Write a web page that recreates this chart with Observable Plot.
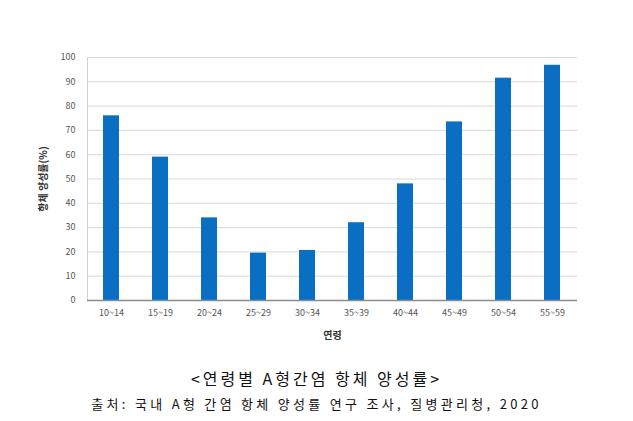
<!DOCTYPE html>
<html><head><meta charset="utf-8">
<script src="https://cdn.jsdelivr.net/npm/d3@7"></script>
<script src="https://cdn.jsdelivr.net/npm/@observablehq/plot@0.6"></script>
<style>
body{margin:0;background:#fff;font-family:"Noto Sans CJK KR","Noto Sans",sans-serif;}
#t{position:absolute;left:0;width:633px;text-align:center;top:366px;font-size:16px;letter-spacing:3px;color:#111;}
#c{position:absolute;left:0;width:633px;text-align:center;top:394px;font-size:13px;letter-spacing:3.3px;color:#111;}
</style></head><body>
<div id="chart"></div>
<div id="t">&lt;연령별 A형간염 항체 양성률&gt;</div>
<div id="c">출처: 국내 A형 간염 항체 양성률 연구 조사, 질병관리청, 2020</div>
<script>
const ages = ["10~14","15~19","20~24","25~29","30~34","35~39","40~44","45~49","50~54","55~59"];
const rates = [76, 59, 34, 19.5, 20.6, 32, 48, 73.5, 91.5, 96.8];
const yTicks = [0,10,20,30,40,50,60,70,80,90,100];
const data = ages.map((a,i)=>({age:a, rate:rates[i]}));
const chart = Plot.plot({
  width:633, height:350,
  marginTop:57, marginBottom:50, marginLeft:87, marginRight:56,
  style:{fontFamily:"'Noto Sans CJK KR','Noto Sans',sans-serif", fontSize:"9px", color:"#555"},
  x:{domain:ages, paddingInner:0.67, paddingOuter:0.335, label:"연령", labelAnchor:"center", labelOffset:38, labelArrow:"none", tickSize:0, tickPadding:9},
  y:{domain:[0,100], ticks:yTicks, label:"항체 양성률(%)", labelAnchor:"center", labelOffset:48, labelArrow:"none", tickSize:0, tickPadding:12},
  marks:[
    Plot.gridY(yTicks, {stroke:"#d9d9d9", strokeOpacity:1}),
    Plot.frame({anchor:"left", stroke:"#d0d0d0"}),
    Plot.barY(data, {x:"age", y:"rate", fill:"#0A6FC2"}),
    Plot.ruleY([0], {stroke:"#8c8c8c", strokeWidth:1.5})
  ]
});
document.getElementById("chart").appendChild(chart);
const svg = d3.select(chart);
svg.selectAll("[aria-label='x-axis label'] text, [aria-label='y-axis label'] text")
  .attr("font-weight","bold").attr("font-size","10px").attr("fill","#333");
</script>
</body></html>
